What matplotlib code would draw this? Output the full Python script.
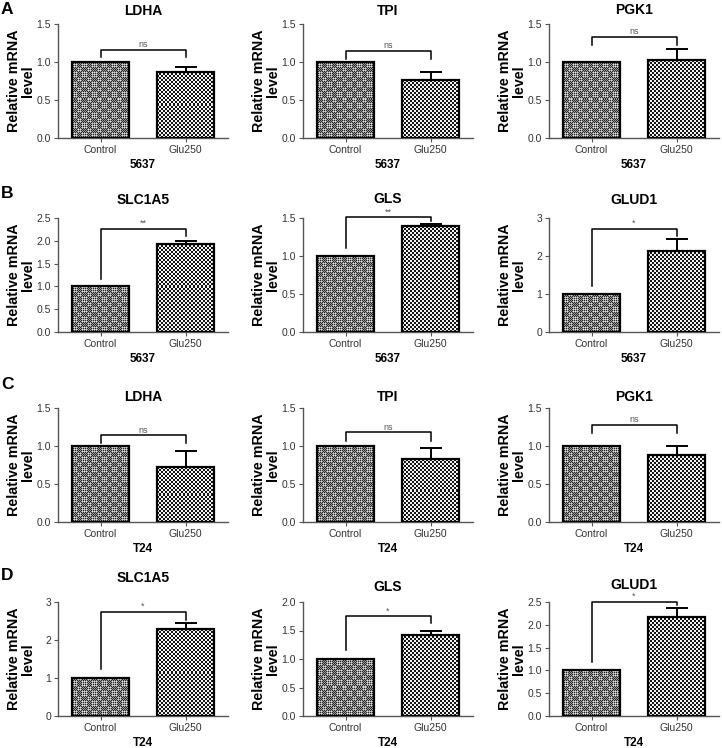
import numpy as np
import matplotlib
matplotlib.use("Agg")
import matplotlib.pyplot as plt
from matplotlib.ticker import MultipleLocator, FormatStrFormatter

plt.rcParams['font.family'] = ['Liberation Sans', 'DejaVu Sans']

# data
panel_letters = ["A", "B", "C", "D"]
genes = [["LDHA", "TPI", "PGK1"],
         ["SLC1A5", "GLS", "GLUD1"],
         ["LDHA", "TPI", "PGK1"],
         ["SLC1A5", "GLS", "GLUD1"]]
cell_lines = ["5637", "5637", "T24", "T24"]
groups = ["Control", "Glu250"]
control_mean = 1.0
glu_mean = [[0.87, 0.76, 1.02],
            [1.93, 1.39, 2.12],
            [0.73, 0.83, 0.88],
            [2.30, 1.42, 2.17]]
glu_err_top = [[0.94, 0.87, 1.17],
               [2.00, 1.42, 2.45],
               [0.93, 0.97, 1.00],
               [2.44, 1.50, 2.36]]
y_max = [[1.5, 1.5, 1.5], [2.5, 1.5, 3.0], [1.5, 1.5, 1.5], [3.0, 2.0, 2.5]]
y_step = [[0.5, 0.5, 0.5], [0.5, 0.5, 1.0], [0.5, 0.5, 0.5], [1.0, 0.5, 0.5]]
bracket_top = [[1.16, 1.15, 1.33], [2.26, 1.51, 2.72],
               [1.14, 1.18, 1.28], [2.74, 1.75, 2.51]]
bracket_left = [[1.065, 1.04, 1.23], [1.17, 1.105, 1.21],
                [1.04, 1.07, 1.17], [1.23, 1.16, 1.19]]
bracket_right = [[1.065, 1.04, 1.23], [2.10, 1.456, 2.52],
                 [1.04, 1.07, 1.17], [2.53, 1.63, 2.43]]
sig_text = [["ns", "ns", "ns"], ["**", "**", "*"],
            ["ns", "ns", "ns"], ["*", "*", "*"]]

W, H = 722, 748
fig = plt.figure(figsize=(W / 100, H / 100), dpi=100)

col_left = [58, 303, 549]
ax_w = 170
row_top = [24, 218, 408, 602]
ax_h = 114
letter_y = [10, 194, 385, 576]
title_gap = [[13, 13, 14], [18, 19, 18], [11, 11, 11], [24, 15, 17]]


def checker(ny, nx, cell, dark, light):
    yy, xx = np.indices((ny, nx))
    pat = ((yy // cell + xx // cell) % 2).astype(float)
    return np.where(pat > 0, light, dark)


def textured_bar(ax, x, h, width, kind):
    bar = ax.bar(x, h, width=width, facecolor='none', edgecolor='black',
                 linewidth=1.6, zorder=3)[0]
    x0, x1 = x - width / 2, x + width / 2
    p0 = ax.transData.transform((x0, 0))
    p1 = ax.transData.transform((x1, h))
    nx = max(int(round(abs(p1[0] - p0[0]))), 2)
    ny = max(int(round(abs(p1[1] - p0[1]))), 2)
    if kind == 0:
        img = checker(ny, nx, 1, 0.15, 0.62)
        # lighter blocks in a coarse grid
        yy, xx = np.indices((ny, nx))
        blk = ((yy // 5 + xx // 5) % 2 == 0) & ((yy % 2 == 0) & (xx % 2 == 0))
        img = np.where(blk, 0.88, img)
    else:
        img = checker(ny, nx, 2, 0.08, 0.95)
    im = ax.imshow(img, extent=(x0, x1, 0, h), cmap='gray', vmin=0, vmax=1,
                   interpolation='nearest', aspect='auto', zorder=2, origin='lower')
    im.set_clip_path(bar)
    return bar


for r in range(4):
    for c in range(3):
        left = col_left[c] / W
        bottom = 1 - (row_top[r] + ax_h) / H
        ax = fig.add_axes([left, bottom, ax_w / W, ax_h / H])
        ax.set_xlim(-0.5, 1.5)
        ax.set_ylim(0, y_max[r][c])
        bw = 0.67
        textured_bar(ax, 0, control_mean, bw, 0)
        textured_bar(ax, 1, glu_mean[r][c], bw, 1)
        ax.set_xlim(-0.5, 1.5)
        ax.set_ylim(0, y_max[r][c])

        ax.errorbar([1], [glu_mean[r][c]],
                    yerr=[[0], [glu_err_top[r][c] - glu_mean[r][c]]],
                    fmt='none', ecolor='black', elinewidth=1.4,
                    capsize=8, capthick=1.4, zorder=4)

        ax.plot([0, 0, 1, 1],
                [bracket_left[r][c], bracket_top[r][c], bracket_top[r][c], bracket_right[r][c]],
                color='black', linewidth=1.1, clip_on=False, zorder=5)
        ax.annotate(sig_text[r][c], (0.5, bracket_top[r][c]), xytext=(0, 2),
                    textcoords='offset points', ha='center', va='baseline',
                    fontsize=6.5, color='#555555', annotation_clip=False)

        for s in ['top', 'right']:
            ax.spines[s].set_visible(False)
        for s in ['left', 'bottom']:
            ax.spines[s].set_color('#555555')
            ax.spines[s].set_linewidth(1.0)
        ax.yaxis.set_major_locator(MultipleLocator(y_step[r][c]))
        if y_step[r][c] >= 1:
            ax.yaxis.set_major_formatter(FormatStrFormatter('%d'))
        else:
            ax.yaxis.set_major_formatter(FormatStrFormatter('%.1f'))
        ax.set_xticks([0, 1])
        ax.set_xticklabels(groups)
        ax.tick_params(axis='both', labelsize=7.5, colors='#555555',
                       labelcolor='#333333', length=3, width=0.8, pad=2)

        ax.set_xlabel(cell_lines[r], fontsize=8.5, fontweight='bold', labelpad=3)
        ax.set_ylabel("Relative mRNA\nlevel", fontsize=10.3, fontweight='bold',
                      linespacing=1.05)
        ax.yaxis.label.set_va('center')
        ax.yaxis.set_label_coords(-37 / ax_w, 0.5)

        fig.text((col_left[c] + ax_w / 2) / W, 1 - (row_top[r] - title_gap[r][c]) / H,
                 genes[r][c], fontsize=10, fontweight='bold', ha='center', va='center')

    fig.text(1 / W, 1 - letter_y[r] / H, panel_letters[r], fontsize=12.5,
             fontweight='bold', ha='left', va='center')

fig.savefig("out.png", dpi=100)
